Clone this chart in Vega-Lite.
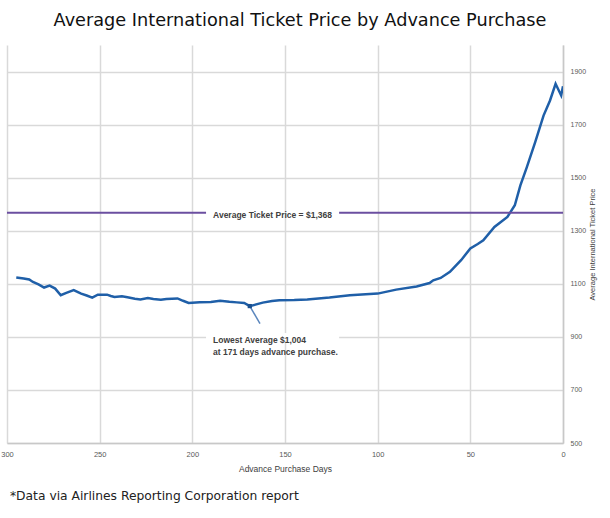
{
  "$schema": "https://vega.github.io/schema/vega-lite/v6.json",
  "width": 556,
  "height": 398,
  "autosize": {"type": "none"},
  "padding": {"left": 7, "top": 45, "right": 47, "bottom": 75},
  "background": "white",
  "config": {"view": {"stroke": null}, "font": "Liberation Sans"},
  "title": {
    "text": "Average International Ticket Price by Advance Purchase",
    "font": "DejaVu Sans",
    "fontSize": 17.7,
    "fontWeight": "normal",
    "color": "#111111",
    "anchor": "middle",
    "frame": "group",
    "dx": 15,
    "offset": 15
  },
  "datasets": {
    "prices": [
      {"day": 295, "price": 1124},
      {"day": 291, "price": 1120},
      {"day": 288, "price": 1116},
      {"day": 286, "price": 1107},
      {"day": 283, "price": 1098},
      {"day": 280, "price": 1086},
      {"day": 277, "price": 1093},
      {"day": 274, "price": 1082},
      {"day": 271, "price": 1057},
      {"day": 268, "price": 1066},
      {"day": 264, "price": 1076},
      {"day": 260, "price": 1063},
      {"day": 257, "price": 1056},
      {"day": 254, "price": 1048},
      {"day": 251, "price": 1059},
      {"day": 246, "price": 1059},
      {"day": 244, "price": 1054},
      {"day": 242, "price": 1050},
      {"day": 238, "price": 1053},
      {"day": 235, "price": 1049},
      {"day": 231, "price": 1044},
      {"day": 228, "price": 1041},
      {"day": 224, "price": 1046},
      {"day": 221, "price": 1043},
      {"day": 217, "price": 1040},
      {"day": 214, "price": 1043},
      {"day": 208, "price": 1045},
      {"day": 205, "price": 1036},
      {"day": 202, "price": 1028},
      {"day": 196, "price": 1030},
      {"day": 190, "price": 1031},
      {"day": 185, "price": 1036},
      {"day": 180, "price": 1032},
      {"day": 176, "price": 1030},
      {"day": 172, "price": 1028},
      {"day": 169, "price": 1016},
      {"day": 162, "price": 1029},
      {"day": 157, "price": 1035},
      {"day": 153, "price": 1038},
      {"day": 145, "price": 1039},
      {"day": 138, "price": 1041},
      {"day": 126, "price": 1048},
      {"day": 115, "price": 1057},
      {"day": 100, "price": 1063},
      {"day": 90, "price": 1078},
      {"day": 79, "price": 1090},
      {"day": 72, "price": 1103},
      {"day": 70, "price": 1113},
      {"day": 66, "price": 1122},
      {"day": 61, "price": 1145},
      {"day": 55, "price": 1189},
      {"day": 50, "price": 1233},
      {"day": 46, "price": 1250},
      {"day": 43, "price": 1264},
      {"day": 37, "price": 1314},
      {"day": 30, "price": 1352},
      {"day": 26, "price": 1396},
      {"day": 23, "price": 1471},
      {"day": 19.5, "price": 1540},
      {"day": 15, "price": 1634},
      {"day": 10.5, "price": 1734},
      {"day": 7, "price": 1791},
      {"day": 4, "price": 1854},
      {"day": 1, "price": 1810},
      {"day": 0, "price": 1845}
    ],
    "avg": [
      {"from": 300, "to": 192.6, "price": 1368},
      {"from": 120.8, "to": 0, "price": 1368}
    ],
    "one": [{}]
  },
  "layer": [
    {
      "data": {"name": "prices"},
      "mark": {"type": "line", "color": "#1f5fa8", "strokeWidth": 2.5, "clip": true},
      "encoding": {
        "x": {
          "field": "day",
          "type": "quantitative",
          "scale": {"domain": [0, 300], "reverse": true, "nice": false, "zero": false},
          "axis": {
            "title": "Advance Purchase Days",
            "values": [300, 250, 200, 150, 100, 50, 0],
            "format": "d",
            "labelFlush": false,
            "grid": true,
            "gridColor": "#d9d9d9",
            "gridWidth": 1.5,
            "ticks": false,
            "domain": true,
            "domainColor": "#c8c8c8",
            "domainWidth": 1.5,
            "labelFont": "Liberation Sans",
            "labelFontSize": 7.5,
            "labelColor": "#595959",
            "labelPadding": 7,
            "titleFont": "Liberation Sans",
            "titleFontSize": 8.5,
            "titleFontWeight": "normal",
            "titleColor": "#404040",
            "titlePadding": 7
          }
        },
        "y": {
          "field": "price",
          "type": "quantitative",
          "scale": {"domain": [500, 2000], "nice": false, "zero": false},
          "axis": {
            "orient": "right",
            "title": "Average International Ticket Price",
            "values": [500, 700, 900, 1100, 1300, 1500, 1700, 1900],
            "format": "d",
            "grid": true,
            "gridColor": "#d9d9d9",
            "gridWidth": 1.5,
            "ticks": false,
            "domain": true,
            "domainColor": "#c8c8c8",
            "domainWidth": 1.5,
            "labelFont": "Liberation Sans",
            "labelFontSize": 7,
            "labelColor": "#595959",
            "labelPadding": 7,
            "titleFont": "Liberation Sans",
            "titleFontSize": 7.5,
            "titleFontWeight": "normal",
            "titleColor": "#404040",
            "titleAngle": 270,
            "titlePadding": 11
          }
        }
      }
    },
    {
      "data": {"name": "one"},
      "mark": {"type": "rect", "fill": "white"},
      "encoding": {
        "x": {"datum": 192.6, "type": "quantitative"},
        "x2": {"datum": 120.8},
        "y": {"datum": 915, "type": "quantitative"},
        "y2": {"datum": 885}
      }
    },
    {
      "data": {"name": "avg"},
      "mark": {"type": "rule", "color": "#6b4fa0", "strokeWidth": 2},
      "encoding": {
        "x": {"field": "from", "type": "quantitative"},
        "x2": {"field": "to"},
        "y": {"field": "price", "type": "quantitative"}
      }
    },
    {
      "data": {"name": "one"},
      "mark": {"type": "text", "text": "Average Ticket Price = $1,368", "font": "Liberation Sans", "fontSize": 8.5, "fontWeight": "bold", "color": "#404040", "align": "left", "baseline": "middle", "dy": 2},
      "encoding": {
        "x": {"datum": 188.8, "type": "quantitative"},
        "y": {"datum": 1368, "type": "quantitative"}
      }
    },
    {
      "data": {"name": "one"},
      "mark": {"type": "rule", "color": "#5b86bd", "strokeWidth": 1.5},
      "encoding": {
        "x": {"datum": 169, "type": "quantitative"},
        "x2": {"datum": 163.5},
        "y": {"datum": 1016, "type": "quantitative"},
        "y2": {"datum": 950}
      }
    },
    {
      "data": {"name": "one"},
      "mark": {"type": "point", "shape": "square", "filled": true, "color": "#1a4f8f", "size": 18, "opacity": 1},
      "encoding": {
        "x": {"datum": 169, "type": "quantitative"},
        "y": {"datum": 1016, "type": "quantitative"}
      }
    },
    {
      "data": {"name": "one"},
      "mark": {"type": "text", "text": ["Lowest Average $1,004", "at 171 days advance purchase."], "font": "Liberation Sans", "fontSize": 8.5, "fontWeight": "bold", "color": "#404040", "align": "left", "baseline": "top", "lineHeight": 12.5},
      "encoding": {
        "x": {"datum": 188.8, "type": "quantitative"},
        "y": {"datum": 905, "type": "quantitative"}
      }
    },
    {
      "data": {"name": "one"},
      "mark": {"type": "text", "text": "*Data via Airlines Reporting Corporation report", "font": "DejaVu Sans", "fontSize": 12.3, "color": "#222222", "align": "left", "baseline": "middle"},
      "encoding": {
        "x": {"datum": 298.4, "type": "quantitative"},
        "y": {"datum": 300, "type": "quantitative"}
      }
    }
  ]
}
